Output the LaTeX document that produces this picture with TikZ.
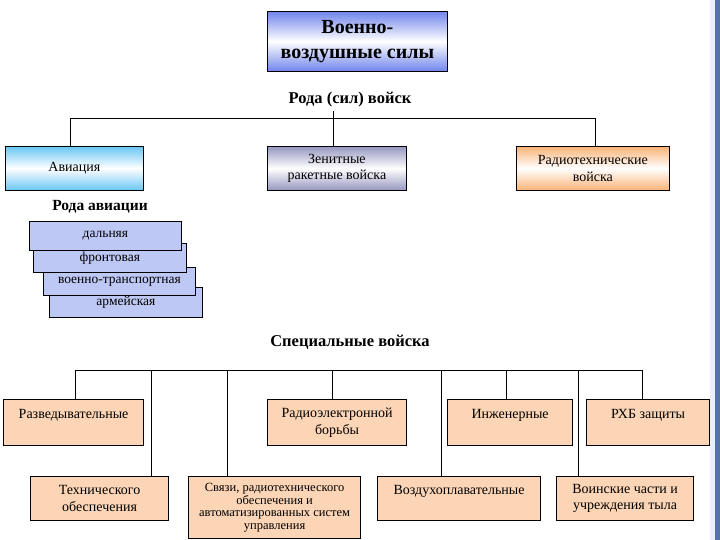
\documentclass[tikz,border=0pt]{standalone}
\usepackage{fontspec}
\setmainfont{Liberation Serif}
\definecolor{vvs}{RGB}{112,132,235}
\definecolor{avc}{RGB}{105,198,245}
\definecolor{zrc}{RGB}{150,150,192}
\definecolor{rtc}{RGB}{250,178,118}
\definecolor{stk}{RGB}{190,200,245}
\definecolor{peach}{RGB}{251,213,181}
\definecolor{edgeblue}{RGB}{84,113,170}
\definecolor{edgelight}{RGB}{232,240,250}
\begin{document}
\begin{tikzpicture}[x=1pt,y=-1pt,
  box/.style={draw=black, line width=0.8pt, align=center, inner sep=1pt, anchor=north west,
    font=\fontsize{14}{16.5}\selectfont},
  gbox/.style={box, top color=#1, bottom color=#1, middle color=white},
  sbox/.style={box, fill=stk, font=\fontsize{13.5}{15}\selectfont, minimum height=29},
  pbox/.style={box, fill=peach, line width=1.2pt},
  ttl/.style={font=\bfseries\fontsize{16.5}{19}\selectfont},
  conn/.style={draw=black, line width=0.8pt}]
\useasboundingbox (0,0) rectangle (720,540);
\fill[white] (0,0) rectangle (720,540);
\fill[edgelight] (710,0) rectangle (715,540);
\fill[edgeblue] (715,0) rectangle (720,540);

% top
\node[gbox=vvs, minimum width=180, minimum height=60, font=\bfseries\fontsize{20}{25}\selectfont]
  (vvs) at (267,11) {Военно-\\воздушные силы};
\node[ttl] (t1) at (350,100) {Рода (сил) войск};

\node[gbox=avc, minimum width=138, minimum height=44] (av) at (5,146) {Авиация};
\node[gbox=zrc, minimum width=139, minimum height=44] (zrv) at (267,146) {Зенитные\\ракетные войска};
\node[gbox=rtc, minimum width=153, minimum height=44] (rtv) at (516,146) {Радиотехнические\\войска};

\coordinate (b1L) at (70,118);
\coordinate (b1R) at (595,118);
\draw[conn] (b1L) -- (b1R);
\draw[conn] ([xshift=-4pt]av.north) -- ([xshift=-4pt]av.north |- b1L);
\draw[conn] ([xshift=-3.5pt]zrv.north) -- ([xshift=-3.5pt]zrv.north |- t1.south);
\draw[conn] ([xshift=2.5pt]rtv.north) -- ([xshift=2.5pt]rtv.north |- b1L);

% aviation kinds
\node[ttl, font=\bfseries\fontsize{15.5}{18}\selectfont] (ra) at (100,207) {Рода авиации};
\node[sbox, minimum width=153, minimum height=30] (arm) at (49,287) {армейская};
\node[sbox, minimum width=152, minimum height=28] (vt) at (43,267) {военно-транспортная};
\node[sbox, minimum width=153, minimum height=29] (fr) at (33,243) {фронтовая};
\node[sbox, minimum width=152, minimum height=29] (dal) at (29,221) {дальняя};

% special troops
\node[ttl] (t2) at (350,342) {Специальные войска};
\coordinate (b2L) at (75,370);
\coordinate (b2R) at (642,370);
\draw[conn] (b2L) -- (b2R);

\node[pbox, minimum width=140, minimum height=46] (razv) at (3,399) {Разведывательные\\\mbox{}};
\node[pbox, minimum width=139, minimum height=46] (reb) at (267,399) {Радиоэлектронной\\борьбы};
\node[pbox, minimum width=125, minimum height=46] (inzh) at (447,399) {Инженерные\\\mbox{}};
\node[pbox, minimum width=123, minimum height=46] (rhb) at (586,399) {РХБ защиты\\\mbox{}};

\node[pbox, minimum width=138, minimum height=44] (teh) at (30,476) {Технического\\обеспечения};
\node[pbox, minimum width=172, minimum height=62, font=\fontsize{12.5}{12.5}\selectfont] (svz) at (188,476)
  {Связи, радиотехнического\\обеспечения и\\автоматизированных систем\\управления};
\node[pbox, minimum width=163, minimum height=44] (vozd) at (377,476) {Воздухоплавательные\\\mbox{}};
\node[pbox, minimum width=137, minimum height=44] (voin) at (556,476) {Воинские части и\\учреждения тыла};

\draw[conn] ([xshift=2pt]razv.north) -- ([xshift=2pt]razv.north |- b2L);
\draw[conn] ([xshift=52pt]teh.north) -- ([xshift=52pt]teh.north |- b2L);
\draw[conn] ([xshift=-47pt]svz.north) -- ([xshift=-47pt]svz.north |- b2L);
\draw[conn] ([xshift=-4.5pt]reb.north) -- ([xshift=-4.5pt]reb.north |- b2L);
\draw[conn] ([xshift=-17.5pt]vozd.north) -- ([xshift=-17.5pt]vozd.north |- b2L);
\draw[conn] ([xshift=-3.5pt]inzh.north) -- ([xshift=-3.5pt]inzh.north |- b2L);
\draw[conn] ([xshift=-46.5pt]voin.north) -- ([xshift=-46.5pt]voin.north |- b2L);
\draw[conn] ([xshift=-5.5pt]rhb.north) -- ([xshift=-5.5pt]rhb.north |- b2L);
\end{tikzpicture}
\end{document}
